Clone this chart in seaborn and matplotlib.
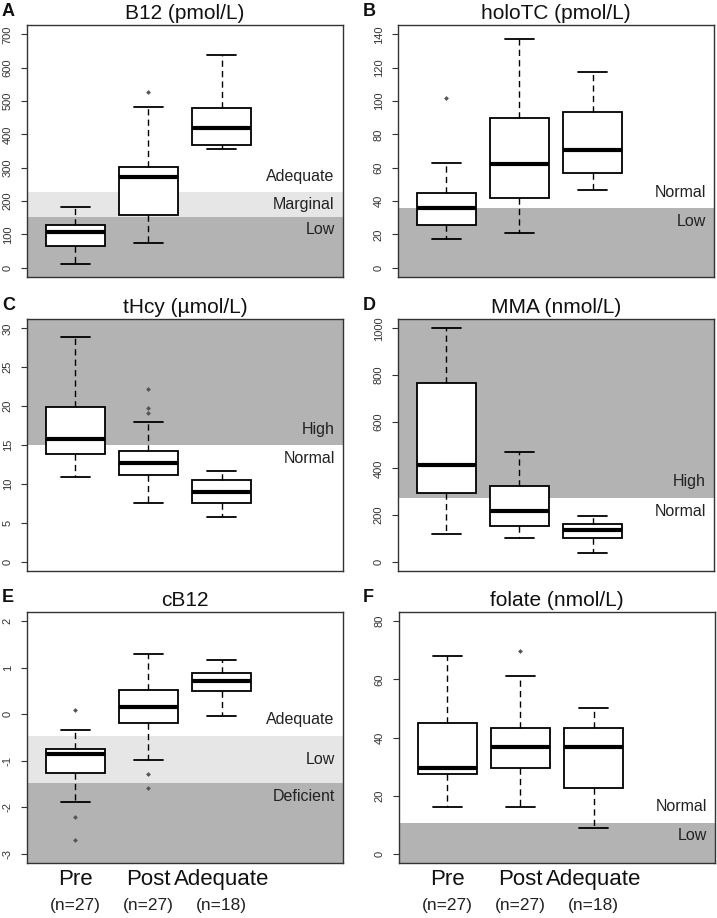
import matplotlib
matplotlib.use("Agg")
import matplotlib.pyplot as plt
import seaborn as sns

groups = ["Pre", "Post", "Adequate"]
group_n = ["(n=27)", "(n=27)", "(n=18)"]

# per group: lower whisker, q1, median, q3, upper whisker
b12 = [[12, 65, 107, 129, 182], [73, 159, 273, 302, 481], [355, 367, 420, 480, 637]]
b12_out = [[], [527], []]
holotc = [[17.4, 25.8, 35.8, 45, 63], [21, 41.6, 62.4, 89.6, 137.4], [46.4, 56.8, 70.8, 93.4, 117.6]]
holotc_out = [[101.6], [], []]
thcy = [[10.9, 13.9, 15.8, 19.9, 28.85], [7.6, 11.2, 12.7, 14.2, 17.9], [5.8, 7.54, 8.96, 10.5, 11.6]]
thcy_out = [[], [22.2, 19.7, 19.1], []]
mma = [[117, 296, 414, 767, 1000], [103, 154, 219, 326, 469], [39, 103, 137, 160, 197]]
mma_out = [[], [], []]
cb12 = [[-1.89, -1.27, -0.86, -0.75, -0.34], [-0.99, -0.18, 0.16, 0.53, 1.3], [-0.04, 0.49, 0.71, 0.89, 1.17]]
cb12_out = [[0.09, -2.22, -2.71], [-1.29, -1.58], []]
folate = [[16, 27.3, 29.6, 45, 67.9], [16, 29.6, 36.7, 43.2, 61], [9, 22.7, 36.7, 43.2, 50]]
folate_out = [[], [69.9], []]

# reference ranges (cut points, zone names bottom->top, shading per zone)
b12_cuts = [153, 227]
b12_zones = ["Low", "Marginal", "Adequate"]
b12_shade = ["dark", "light", None]
holotc_cuts = [35.6]
holotc_zones = ["Low", "Normal"]
holotc_shade = ["dark", None]
thcy_cuts = [15]
thcy_zones = ["Normal", "High"]
thcy_shade = [None, "dark"]
mma_cuts = [273]
mma_zones = ["Normal", "High"]
mma_shade = [None, "dark"]
cb12_cuts = [-1.48, -0.46]
cb12_zones = ["Deficient", "Low", "Adequate"]
cb12_shade = ["dark", "light", None]
folate_cuts = [10.7]
folate_zones = ["Low", "Normal"]
folate_shade = ["dark", None]

titles = ["B12 (pmol/L)", "holoTC (pmol/L)", "tHcy (µmol/L)", "MMA (nmol/L)", "cB12", "folate (nmol/L)"]
letters = ["A", "B", "C", "D", "E", "F"]

sns.set_theme(style="white")
plt.rcParams["font.family"] = ["Liberation Sans", "DejaVu Sans"]
plt.rcParams["axes.unicode_minus"] = False

shade_col = {"dark": "#b3b3b3", "light": "#e6e6e6"}

W, H = 717, 918
fig = plt.figure(figsize=(W / 100, H / 100), dpi=100)


def px_box(left, top, right, bottom):
    return [left / W, 1 - bottom / H, (right - left) / W, (bottom - top) / H]


panels = [
    (b12, b12_out, b12_cuts, b12_zones, b12_shade, (-28, 728), range(0, 701, 100), (27, 25, 343, 277)),
    (holotc, holotc_out, holotc_cuts, holotc_zones, holotc_shade, (-5.6, 145.6), range(0, 141, 20), (398, 25, 714, 277)),
    (thcy, thcy_out, thcy_cuts, thcy_zones, thcy_shade, (-1.2, 31.2), range(0, 31, 5), (27, 319, 343, 571)),
    (mma, mma_out, mma_cuts, mma_zones, mma_shade, (-40, 1040), range(0, 1001, 200), (398, 319, 714, 571)),
    (cb12, cb12_out, cb12_cuts, cb12_zones, cb12_shade, (-3.2, 2.2), range(-3, 3, 1), (27, 612, 343, 863)),
    (folate, folate_out, folate_cuts, folate_zones, folate_shade, (-3.2, 83.2), range(0, 81, 20), (399, 612, 715, 863)),
]

for i, (stats, outs, cuts, zones, shade, ylim, yticks, pos) in enumerate(panels):
    ax = fig.add_axes(px_box(*pos))

    # shaded reference zones
    edges = [ylim[0] - 1000] + cuts + [ylim[1] + 1000]
    for k, s in enumerate(shade):
        if s:
            ax.axhspan(edges[k], edges[k + 1], color=shade_col[s], lw=0, zorder=0)

    bstats = [dict(whislo=s[0], q1=s[1], med=s[2], q3=s[3], whishi=s[4], fliers=[]) for s in stats]
    ax.bxp(bstats, positions=[1, 2, 3], widths=0.8, patch_artist=True, showfliers=False,
           capwidths=0.4,
           boxprops=dict(facecolor="white", edgecolor="black", linewidth=1.3),
           medianprops=dict(color="black", linewidth=3, solid_capstyle="butt"),
           whiskerprops=dict(color="black", linewidth=1, linestyle=(0, (4.5, 3))),
           capprops=dict(color="black", linewidth=1.3))

    xs = [g + 1 for g, o in enumerate(outs) for _ in o]
    ys = [v for o in outs for v in o]
    if ys:
        sns.scatterplot(x=xs, y=ys, ax=ax, color="#555555", s=6, marker="D", linewidth=0, zorder=3)

    # zone labels
    lab = dict(ha="right", va="center", fontsize=11.5, color="#222222",
               textcoords="offset points")
    ax.annotate(zones[0], xy=(1, cuts[0]), xycoords=("axes fraction", "data"),
                xytext=(-6, -9.5), **lab)
    ax.annotate(zones[-1], xy=(1, cuts[-1]), xycoords=("axes fraction", "data"),
                xytext=(-6, 11.5), **lab)
    if len(zones) == 3:
        ax.annotate(zones[1], xy=(1, (cuts[0] + cuts[1]) / 2), xycoords=("axes fraction", "data"),
                    xytext=(-6, 0), **lab)

    ax.set_xlim(0.34, 4.66)
    ax.set_ylim(*ylim)
    ax.set_yticks(list(yticks))
    ax.tick_params(axis="y", left=True, length=4.3, width=0.8, color="#333333",
                   labelsize=8, labelcolor="#333333", labelrotation=90, pad=6)
    for t in ax.get_yticklabels():
        t.set_va("center")

    if i >= 4:
        ax.set_xticks([1, 2, 3], groups)
        ax.tick_params(axis="x", length=0, labelsize=16, labelcolor="#111111", pad=4.3)
        for g, n in enumerate(group_n):
            ax.annotate(n, xy=(g + 1, 0), xycoords=("data", "axes fraction"),
                        xytext=(0, -30.6), textcoords="offset points",
                        ha="center", va="center", fontsize=12.5, color="#222222")
    else:
        ax.set_xticks([])

    for sp in ax.spines.values():
        sp.set_visible(True)
        sp.set_color("#333333")
        sp.set_linewidth(1)

    ax.set_title(titles[i], fontsize=15, pad=4.5, color="#111111")

    left_px = 2 if pos[0] < 200 else 363
    fig.text(left_px / W, 1 - (pos[1] - 9.5) / H, letters[i], fontsize=13,
             fontweight="bold", color="#111111", ha="left", va="baseline")

fig.savefig("out.png", dpi=100)
